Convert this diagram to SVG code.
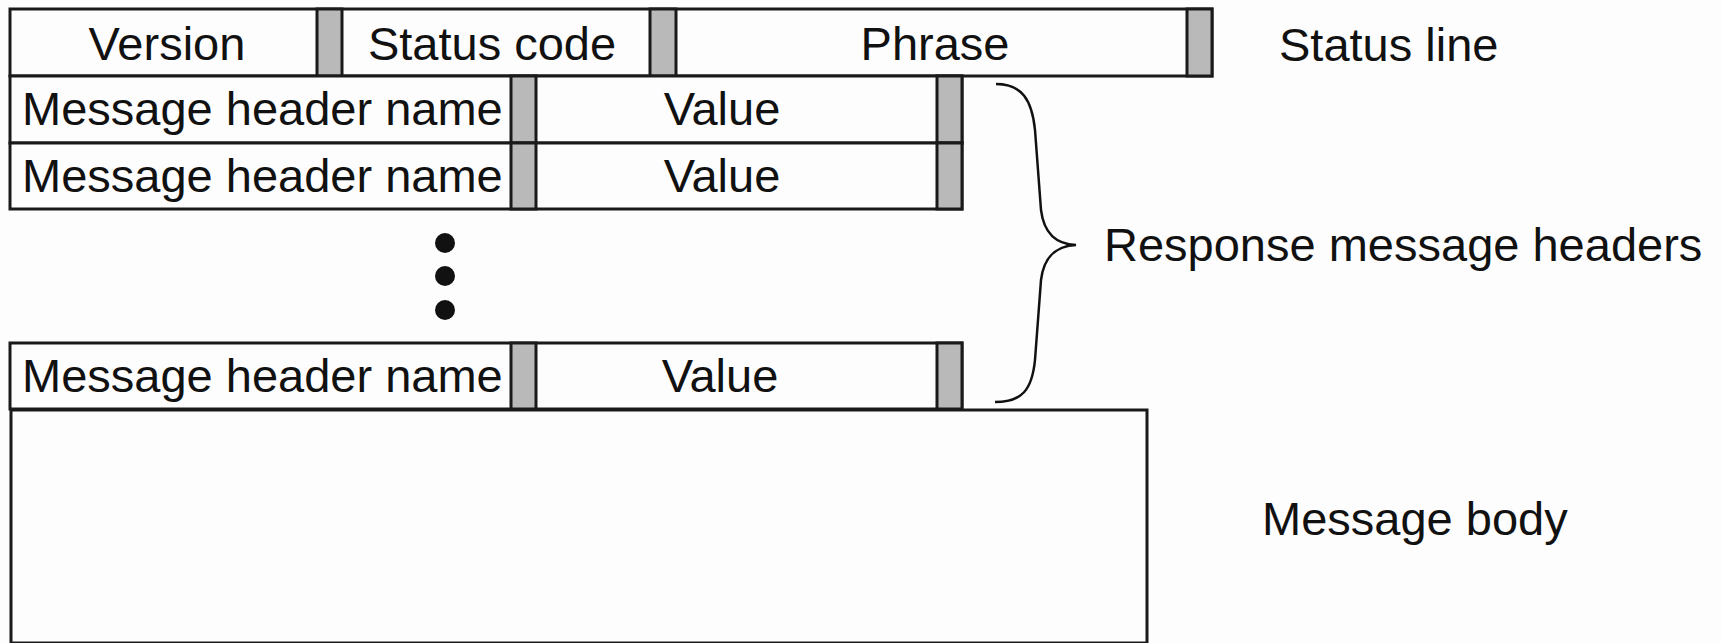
<svg xmlns="http://www.w3.org/2000/svg" width="1721" height="643" viewBox="0 0 1721 643">
<style>
.cell{fill:#fdfdfd;stroke:#1a1a1a;stroke-width:3}
.bar{fill:#b9b9b9;stroke:#1a1a1a;stroke-width:3}
.t{font-family:"Liberation Sans",Arial,Helvetica,sans-serif;font-size:47px;fill:#111}
.m{text-anchor:middle}
.brace{fill:none;stroke:#111;stroke-width:2.5}
.dot{fill:#111}
</style>
<rect width="1721" height="643" fill="#fdfdfd"/>
<g id="status-line">
  <rect class="cell" x="10" y="9" width="1202" height="67"/>
  <rect class="bar" x="317" y="9" width="25" height="67"/>
  <rect class="bar" x="650" y="9" width="26" height="67"/>
  <rect class="bar" x="1187" y="9" width="25" height="67"/>
  <text class="t m" x="167" y="60">Version</text>
  <text class="t m" x="492" y="60">Status code</text>
  <text class="t m" x="935" y="60">Phrase</text>
</g>
<g id="header-1">
  <rect class="cell" x="10" y="76" width="952" height="67"/>
  <rect class="bar" x="511" y="76" width="25" height="67"/>
  <rect class="bar" x="937" y="76" width="25" height="67"/>
  <text class="t" x="22" y="125">Message header name</text>
  <text class="t m" x="722" y="125">Value</text>
</g>
<g id="header-2">
  <rect class="cell" x="10" y="143" width="952" height="66"/>
  <rect class="bar" x="511" y="143" width="25" height="66"/>
  <rect class="bar" x="937" y="143" width="25" height="66"/>
  <text class="t" x="22" y="192">Message header name</text>
  <text class="t m" x="722" y="192">Value</text>
</g>
<g id="ellipsis">
  <circle class="dot" cx="445" cy="243" r="10"/>
  <circle class="dot" cx="445" cy="276" r="10"/>
  <circle class="dot" cx="445" cy="310" r="10"/>
</g>
<g id="header-n">
  <rect class="cell" x="10" y="343" width="952" height="66"/>
  <rect class="bar" x="511" y="343" width="25" height="66"/>
  <rect class="bar" x="937" y="343" width="25" height="66"/>
  <text class="t" x="22" y="392">Message header name</text>
  <text class="t m" x="720" y="392">Value</text>
</g>
<g id="message-body">
  <rect class="cell" x="11" y="410" width="1136" height="233"/>
</g>
<g id="connectors">
  <path class="brace" d="M996 84 C1022 84 1032 100 1035 130 L1041 210 C1044 234 1056 244 1076 245 C1056 246 1044 256 1041 280 L1035 360 C1032 390 1022 402 995 402"/>
</g>
<g id="labels">
  <text class="t" x="1279" y="61">Status line</text>
  <text class="t" x="1104" y="261">Response message headers</text>
  <text class="t" x="1262" y="535">Message body</text>
</g>
</svg>
